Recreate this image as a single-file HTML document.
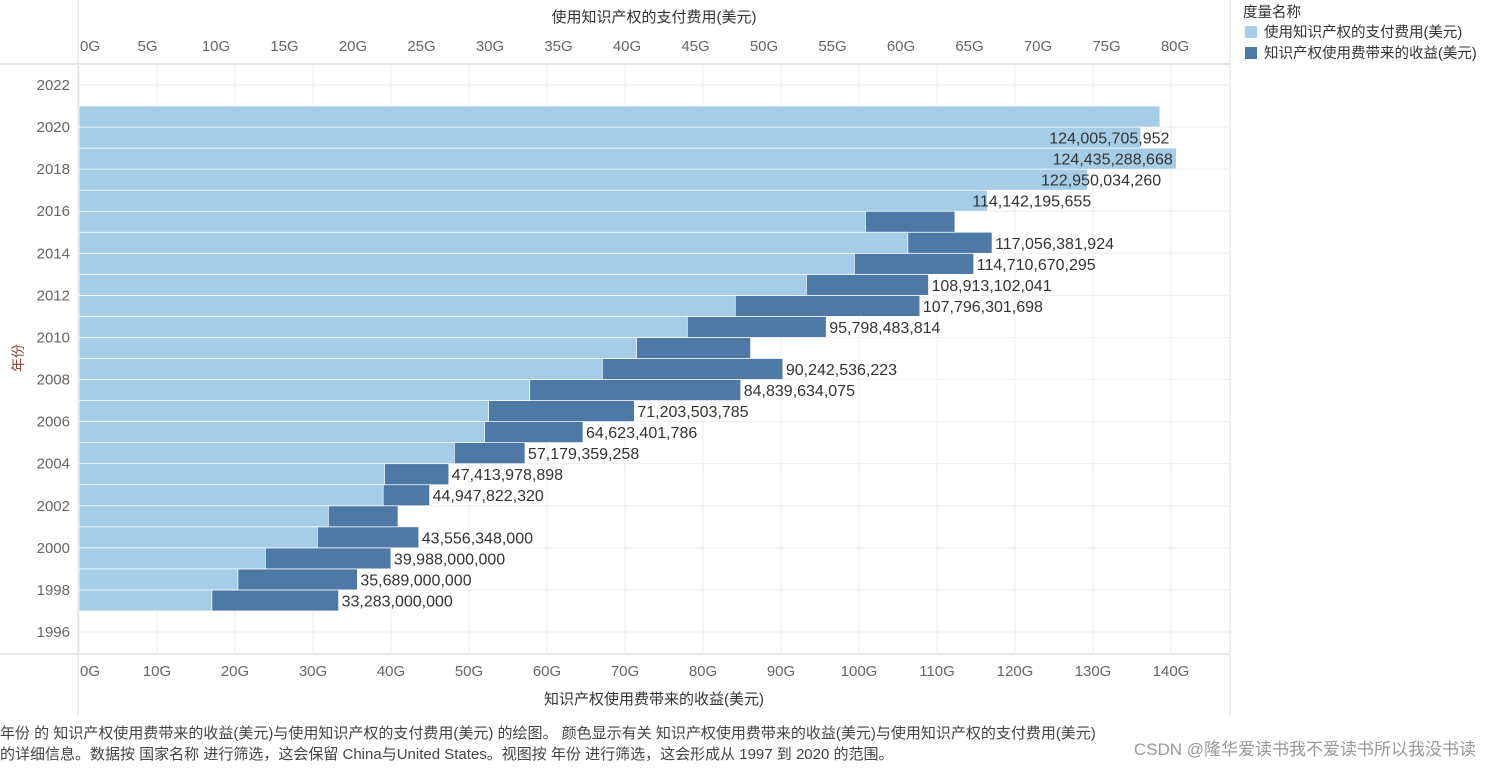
<!DOCTYPE html>
<html><head><meta charset="utf-8">
<style>
body{margin:0;width:1491px;height:767px;background:#fff;overflow:hidden;font-family:"Liberation Sans","Noto Sans CJK SC",sans-serif;}
svg text{font-family:"Liberation Sans","Noto Sans CJK SC",sans-serif;}
</style></head>
<body>
<svg id="chart" width="1491" height="767" xmlns="http://www.w3.org/2000/svg"></svg>
<script>
const years=[1997,1998,1999,2000,2001,2002,2003,2004,2005,2006,2007,2008,2009,2010,2011,2012,2013,2014,2015,2016,2017,2018,2019,2020];
const payments=[9.7,11.6,13.6,17.4,18.2,22.2,22.3,27.4,29.6,29.9,32.9,38.2,40.7,44.4,47.9,53.1,56.6,60.5,57.4,66.3,73.6,80.1,77.5,78.9];
const receipts=[33.28,35.69,39.99,43.56,40.9,44.95,47.41,57.18,64.62,71.2,84.84,90.24,86.1,95.8,107.8,108.91,114.71,117.06,112.3,114.14,122.95,124.44,124.01,122];
const labels=["33,283,000,000","35,689,000,000","39,988,000,000","43,556,348,000",null,"44,947,822,320","47,413,978,898","57,179,359,258","64,623,401,786","71,203,503,785","84,839,634,075","90,242,536,223",null,"95,798,483,814","107,796,301,698","108,913,102,041","114,710,670,295","117,056,381,924",null,"114,142,195,655","122,950,034,260","124,435,288,668","124,005,705,952",null];
const topTicks=[0,5,10,15,20,25,30,35,40,45,50,55,60,65,70,75,80];
const bottomTicks=[0,10,20,30,40,50,60,70,80,90,100,110,120,130,140];
const yearTicks=[1996,1998,2000,2002,2004,2006,2008,2010,2012,2014,2016,2018,2020,2022];

const X0=79;
const xTop=v=>X0+v*13.7;
const xBot=v=>X0+v*7.8;
const yY=y=>632-(y-1996)*21.04;
const svg=document.getElementById('chart');
const NS='http://www.w3.org/2000/svg';
function mk(tag,attrs,parent){const e=document.createElementNS(NS,tag);for(const k in attrs)e.setAttribute(k,attrs[k]);(parent||svg).appendChild(e);return e;}
function tx(str,attrs){const e=mk('text',attrs);e.textContent=str;return e;}

mk('line',{x1:0,y1:64,x2:1230,y2:64,stroke:'#ccc'});
mk('line',{x1:0,y1:654,x2:1230,y2:654,stroke:'#ccc'});
mk('line',{x1:78,y1:0,x2:78,y2:715,stroke:'#ddd'});
mk('line',{x1:1230,y1:0,x2:1230,y2:715,stroke:'#ddd'});

bottomTicks.forEach(t=>{const g=mk('line',{x1:xBot(t),y1:64,x2:xBot(t),y2:654,stroke:'#eeeeee'});
});
yearTicks.forEach(y=>{const g=mk('line',{x1:78,y1:yY(y),x2:1230,y2:yY(y),stroke:'#eeeeee'});
});

years.forEach((y,i)=>{const r=mk('rect',{x:X0,y:yY(y+1),width:xBot(receipts[i])-X0,height:yY(y)-yY(y+1),fill:'#4e79a7',stroke:'#fff','stroke-width':0.7});
});
years.forEach((y,i)=>{const r=mk('rect',{x:X0,y:yY(y+1),width:xTop(payments[i])-X0,height:yY(y)-yY(y+1),fill:'#a6cde8',stroke:'#fff','stroke-width':0.7});
});
years.forEach((y,i)=>{if(!labels[i])return;const t=tx(labels[i],{x:xBot(receipts[i])+3,y:(yY(y)+yY(y+1))/2+6,'font-size':16,fill:'#333'});
});

topTicks.forEach((t,i)=>{const e=tx(t+'G',{x:i===0?X0+1:xTop(t),y:51,'font-size':15,fill:'#666','text-anchor':i===0?'start':'middle'});
});
tx('使用知识产权的支付费用(美元)',{x:654,y:22,'font-size':15,fill:'#333','text-anchor':'middle',});
bottomTicks.forEach((t,i)=>{const e=tx(t+'G',{x:i===0?X0+1:xBot(t),y:676,'font-size':15,fill:'#666','text-anchor':i===0?'start':'middle'});
});
tx('知识产权使用费带来的收益(美元)',{x:654,y:704,'font-size':15,fill:'#333','text-anchor':'middle',});
yearTicks.forEach(y=>{const e=tx(String(y),{x:70,y:yY(y)+5,'font-size':15,fill:'#666','text-anchor':'end'});
});
tx('年份',{x:0,y:0,'font-size':14,fill:'#8a4a3a','text-anchor':'middle',transform:'translate(23,358) rotate(-90)',});

tx('度量名称',{x:1243,y:17,'font-size':14.5,fill:'#333',});
mk('rect',{x:1245,y:26,width:12,height:12,fill:'#a6cde8',});
tx('使用知识产权的支付费用(美元)',{x:1264,y:37,'font-size':14.5,fill:'#333',});
mk('rect',{x:1245,y:47,width:12,height:12,fill:'#4e79a7',});
tx('知识产权使用费带来的收益(美元)',{x:1264,y:58,'font-size':14.5,fill:'#333',});

tx('年份 的 知识产权使用费带来的收益(美元)与使用知识产权的支付费用(美元) 的绘图。 颜色显示有关 知识产权使用费带来的收益(美元)与使用知识产权的支付费用(美元)',{x:0,y:738,'font-size':15,fill:'#444',});
tx('的详细信息。数据按 国家名称 进行筛选，这会保留 China与United States。视图按 年份 进行筛选，这会形成从 1997 到 2020 的范围。',{x:0,y:759,'font-size':15,fill:'#444',});
tx('CSDN @隆华爱读书我不爱读书所以我没书读',{x:1476,y:755,'font-size':17,fill:'#999','text-anchor':'end',});
</script>
</body></html>
